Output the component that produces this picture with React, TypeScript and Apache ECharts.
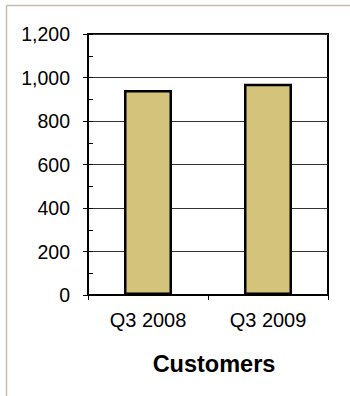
import React, { useEffect, useRef } from "react";
import * as echarts from "echarts";

const categories = ["Q3 2008", "Q3 2009"];
const customers = [943, 971];
const axisTitle = "Customers";

export default function App() {
  const ref = useRef<HTMLDivElement>(null);
  useEffect(() => {
    if (!ref.current) return;
    const chart = echarts.init(ref.current, null, { renderer: "svg" });
    const font = "Liberation Sans, Arial, sans-serif";
    chart.setOption({
      animation: false,
      backgroundColor: "#fff",
      graphic: [
        {
          type: "line",
          shape: { x1: 6.5, y1: 5.5, x2: 350, y2: 5.5 },
          style: { stroke: "#c6bcb1", lineWidth: 1.5 },
          z: 100,
        },
        {
          type: "line",
          shape: { x1: 6.5, y1: 5.5, x2: 6.5, y2: 396 },
          style: { stroke: "#c6bcb1", lineWidth: 1.5 },
          z: 100,
        },
        {
          type: "text",
          x: 214,
          y: 364,
          style: {
            text: axisTitle,
            font: "bold 23.5px " + font,
            fill: "#000",
            textAlign: "center",
            textVerticalAlign: "middle",
          },
        },
      ],
      grid: {
        left: 88,
        top: 34,
        right: 22,
        bottom: 101,
        show: true,
        borderColor: "#000",
        borderWidth: 2,
      },
      xAxis: {
        type: "category",
        data: categories,
        axisLine: { show: true, lineStyle: { color: "#000", width: 2 } },
        axisTick: { show: true, length: 5, lineStyle: { color: "#000", width: 1 } },
        axisLabel: { color: "#000", fontSize: 20, fontFamily: font, margin: 15 },
        splitLine: { show: false },
      },
      yAxis: [
        {
          type: "value",
          min: 0,
          max: 1200,
          interval: 200,
          axisLine: { show: true, lineStyle: { color: "#000", width: 2 } },
          axisTick: { show: true, length: 5, lineStyle: { color: "#000", width: 1 } },
          axisLabel: {
            color: "#000",
            fontSize: 19.5,
            fontFamily: font,
            margin: 18,
            formatter: (v: number) => v.toLocaleString("en-US"),
          },
          splitLine: { show: true, lineStyle: { color: "#333", width: 1 } },
        },
        {
          type: "value",
          position: "left",
          min: 0,
          max: 1200,
          interval: 100,
          axisLine: { show: false },
          axisTick: { show: true, inside: true, length: 5, lineStyle: { color: "#000", width: 1 } },
          axisLabel: { show: false },
          splitLine: { show: false },
        },
      ],
      series: [
        {
          type: "bar",
          data: customers,
          barWidth: "40%",
          yAxisIndex: 0,
          itemStyle: { color: "#d4c37b", borderColor: "#000", borderWidth: 2.5 },
        },
      ],
    });
    return () => chart.dispose();
  }, []);
  return (
    <div
      ref={ref}
      style={{ position: "fixed", left: 0, top: 0, width: 350, height: 396 }}
    />
  );
}
